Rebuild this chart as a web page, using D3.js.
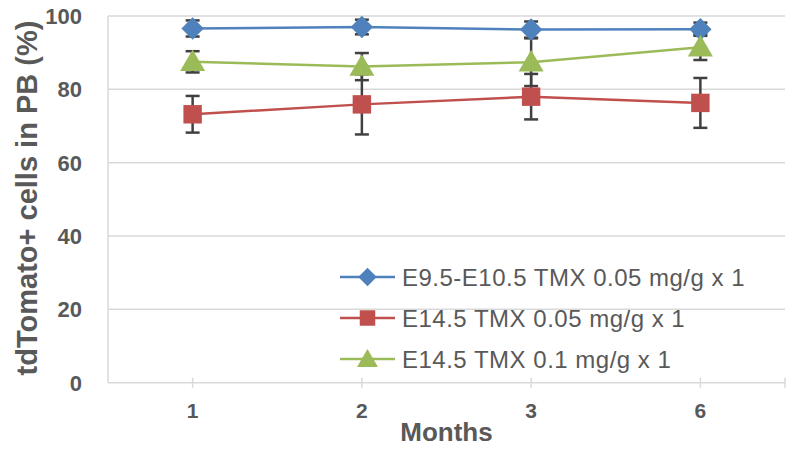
<!DOCTYPE html>
<html lang="en">
<head>
<meta charset="utf-8">
<title>tdTomato+ cells in PB</title>
<style>
  body { margin: 0; background: #fff; }
  text { font-family: "Liberation Sans", Arial, sans-serif; fill: #595959; }
</style>
</head>
<body>
<svg width="795" height="452"></svg>
<script src="https://d3js.org/d3.v7.min.js"></script>
<script>

    var months = ["1", "2", "3", "6"];
    var yTicks = [0, 20, 40, 60, 80, 100];

    var seriesNames = ["E9.5-E10.5 TMX 0.05 mg/g x 1", "E14.5 TMX 0.05 mg/g x 1", "E14.5 TMX 0.1 mg/g x 1"];
    var blueVals  = [96.6, 97.0, 96.3, 96.4];
    var blueErr   = [2.2, 2.0, 2.2, 1.8];
    var redVals   = [73.2, 75.9, 78.0, 76.3];
    var redErr    = [5.0, 8.2, 6.2, 6.8];
    var greenVals = [87.5, 86.2, 87.4, 91.5];
    var greenErr  = [2.9, 3.7, 6.5, 3.5];

    var colors = ["#4f81bd", "#c0504d", "#9bbb59"];
    var symbols = [d3.symbolDiamond2, d3.symbolSquare, d3.symbolTriangle];

    var series = [
        { name: seriesNames[0], vals: blueVals, err: blueErr },
        { name: seriesNames[1], vals: redVals, err: redErr },
        { name: seriesNames[2], vals: greenVals, err: greenErr }
    ];

    var svg = d3.select("svg"),
        plotLeft = 108, plotRight = 785, plotTop = 16, plotBottom = 382.7;

    var x = d3.scalePoint().domain(months).range([plotLeft, plotRight]).padding(0.5);
    var y = d3.scaleLinear().domain([0, 100]).range([plotBottom, plotTop]);

    // gridlines
    svg.append("g")
        .selectAll("line")
        .data(yTicks.filter(function(d) { return d > 0; }))
        .enter().append("line")
        .attr("x1", plotLeft).attr("x2", plotRight)
        .attr("y1", y).attr("y2", y)
        .attr("stroke", "#d9d9d9").attr("stroke-width", 1.5);

    // axis lines
    svg.append("line")
        .attr("x1", plotLeft).attr("x2", plotLeft).attr("y1", y(100)).attr("y2", y(0))
        .attr("stroke", "#d9d9d9").attr("stroke-width", 1.5);
    svg.append("line")
        .attr("x1", plotLeft).attr("x2", plotRight).attr("y1", y(0)).attr("y2", y(0))
        .attr("stroke", "#d9d9d9").attr("stroke-width", 1.5);

    // x ticks on category points plus right end
    svg.append("g")
        .selectAll("line")
        .data(months.map(function(m) { return x(m); }).concat([plotRight]))
        .enter().append("line")
        .attr("x1", function(d) { return d; }).attr("x2", function(d) { return d; })
        .attr("y1", y(0) - 5).attr("y2", y(0) + 5)
        .attr("stroke", "#d9d9d9").attr("stroke-width", 1.5);

    // y tick labels
    svg.append("g")
        .selectAll("text")
        .data(yTicks)
        .enter().append("text")
        .attr("x", 82).attr("y", y).attr("dy", "0.36em")
        .attr("text-anchor", "end")
        .style("font-size", "22px").style("font-weight", "bold")
        .text(function(d) { return d; });

    // x tick labels
    svg.append("g")
        .selectAll("text")
        .data(months)
        .enter().append("text")
        .attr("x", function(d) { return x(d); }).attr("y", 418)
        .attr("text-anchor", "middle")
        .style("font-size", "21px").style("font-weight", "bold")
        .text(function(d) { return d; });

    // axis titles
    svg.append("text")
        .attr("x", (plotLeft + plotRight) / 2).attr("y", 441)
        .attr("text-anchor", "middle")
        .style("font-size", "26px").style("font-weight", "bold")
        .text("Months");

    svg.append("text")
        .attr("transform", "translate(37,198) rotate(-90)")
        .attr("text-anchor", "middle")
        .style("font-size", "29px").style("font-weight", "bold")
        .text("tdTomato+ cells in PB (%)");

    var line = d3.line()
        .x(function(d, i) { return x(months[i]); })
        .y(function(d) { return y(d); });

    // error bars
    series.forEach(function(s) {
        var g = svg.append("g").attr("stroke", "#404040").attr("stroke-width", 2.5);
        s.vals.forEach(function(v, i) {
            var cx = x(months[i]);
            g.append("line").attr("x1", cx).attr("x2", cx)
                .attr("y1", y(v + s.err[i])).attr("y2", y(v - s.err[i]));
            g.append("line").attr("x1", cx - 7).attr("x2", cx + 7)
                .attr("y1", y(v + s.err[i])).attr("y2", y(v + s.err[i]));
            g.append("line").attr("x1", cx - 7).attr("x2", cx + 7)
                .attr("y1", y(v - s.err[i])).attr("y2", y(v - s.err[i]));
        });
    });

    // lines and markers
    series.forEach(function(s, k) {
        svg.append("path")
            .datum(s.vals)
            .attr("d", line)
            .attr("fill", "none")
            .attr("stroke", colors[k])
            .attr("stroke-width", 2.5);
    });
    var sizes = [320, 340, 270];
    series.forEach(function(s, k) {
        svg.append("g")
            .selectAll("path")
            .data(s.vals)
            .enter().append("path")
            .attr("transform", function(d, i) {
                return "translate(" + x(months[i]) + "," + (y(d) + (k === 2 ? 2 : 0)) + ")";
            })
            .attr("d", d3.symbol().type(symbols[k]).size(sizes[k]))
            .attr("fill", colors[k]);
    });

    // legend
    var legend = svg.append("g")
        .selectAll("g")
        .data(series)
        .enter().append("g")
        .attr("transform", function(d, i) { return "translate(340," + (277 + i * 41) + ")"; });

    legend.append("line")
        .attr("x1", 0).attr("x2", 55)
        .attr("stroke", function(d, i) { return colors[i]; })
        .attr("stroke-width", 2.5);
    legend.append("path")
        .attr("transform", function(d, i) { return "translate(27.5," + (i === 2 ? 2 : 0) + ")"; })
        .attr("d", function(d, i) { return d3.symbol().type(symbols[i]).size([220, 240, 190][i])(); })
        .attr("fill", function(d, i) { return colors[i]; });
    legend.append("text")
        .attr("x", 62).attr("dy", "0.36em")
        .style("font-size", "24px").style("letter-spacing", "0.5px")
        .text(function(d) { return d.name; });
</script>
</body>
</html>
